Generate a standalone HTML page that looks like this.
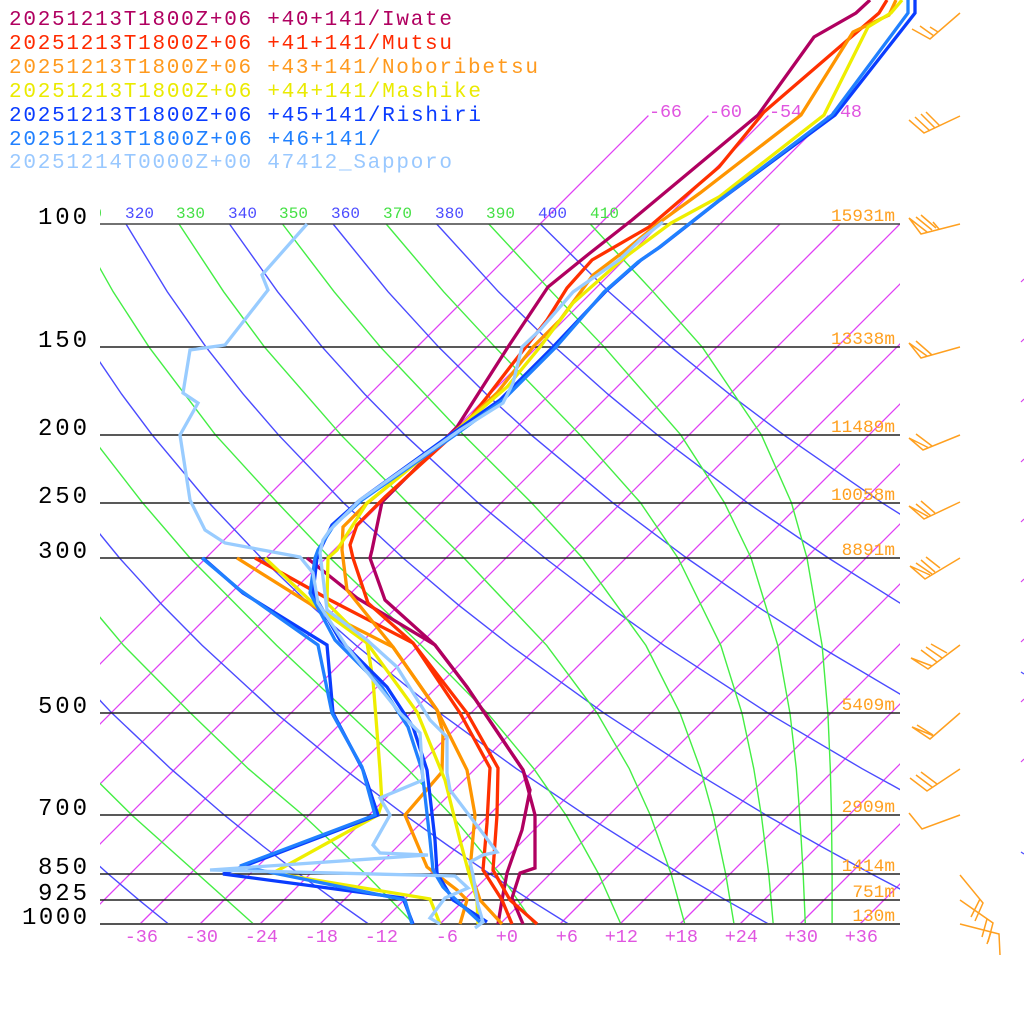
<!DOCTYPE html>
<html><head><meta charset="utf-8">
<style>
html,body{margin:0;padding:0;background:#fff;}
svg{display:block;}
text{font-family:"Liberation Mono","DejaVu Sans Mono",monospace;}
</style></head>
<body>
<svg width="1024" height="1024" viewBox="0 0 1024 1024" xmlns="http://www.w3.org/2000/svg">
<defs>
<clipPath id="cp"><rect x="100" y="0" width="800" height="925"/></clipPath>
</defs>
<rect x="0" y="0" width="1024" height="1024" fill="#fff"/>

<g clip-path="url(#cp)" fill="none">
<!-- isotherms -->
<g stroke="#e040f4" stroke-width="1.3">
<line x1="-160" y1="924" x2="648.4" y2="115.6"/>
<line x1="-100" y1="924" x2="708.4" y2="115.6"/>
<line x1="-40" y1="924" x2="768.4" y2="115.6"/>
<line x1="20" y1="924" x2="828.4" y2="115.6"/>
<line x1="80" y1="924" x2="780" y2="224"/>
<line x1="140" y1="924" x2="840" y2="224"/>
<line x1="200" y1="924" x2="900" y2="224"/>
<line x1="260" y1="924" x2="960" y2="224"/>
<line x1="320" y1="924" x2="1020" y2="224"/>
<line x1="380" y1="924" x2="1080" y2="224"/>
<line x1="440" y1="924" x2="1140" y2="224"/>
<line x1="500" y1="924" x2="1200" y2="224"/>
<line x1="560" y1="924" x2="1260" y2="224"/>
<line x1="620" y1="924" x2="1320" y2="224"/>
<line x1="680" y1="924" x2="1380" y2="224"/>
<line x1="740" y1="924" x2="1440" y2="224"/>
<line x1="800" y1="924" x2="1500" y2="224"/>
<line x1="860" y1="924" x2="1560" y2="224"/>
</g>
<!-- dry adiabats -->
<g stroke="#4b4bff" stroke-width="1.4">
<polyline points="168.5,924 139.3,900.3 109.0,874.6 77.4,846.5"/>
<polyline points="368.5,924 334.9,900.3 299.9,874.6 263.4,846.5 225.0,815.6 170.7,768.7 112.1,713.3 48.3,645.4"/>
<polyline points="568.5,924 530.5,900.3 490.9,874.6 449.3,846.5 405.6,815.6 343.6,768.7 276.1,713.3 202.2,645.4 162.1,604.9 119.5,558.0 74.2,502.6"/>
<polyline points="768.5,924 726.1,900.3 681.8,874.6 635.3,846.5 586.2,815.6 516.4,768.7 440.2,713.3 356.1,645.4 310.2,604.9 261.3,558.0 208.8,502.6 152.0,434.7 121.6,394.1 89.9,347.3"/>
<polyline points="968.5,924 921.7,900.3 872.7,874.6 821.3,846.5 766.9,815.6 689.3,768.7 604.3,713.3 510.1,645.4 458.4,604.9 403.1,558.0 343.3,502.6 278.3,434.7 243.2,394.1 206.2,347.3 167.3,291.8 126.0,224"/>
<polyline points="1007.2,846.5 947.5,815.6 862.1,768.7 768.4,713.3 664.0,645.4 606.6,604.9 544.9,558.0 477.9,502.6 404.6,434.7 364.7,394.1 322.5,347.3 277.7,291.8 229.5,224"/>
<polyline points="1034.9,768.7 932.4,713.3 817.9,645.4 754.7,604.9 686.7,558.0 612.5,502.6 530.9,434.7 486.3,394.1 438.9,347.3 388.1,291.8 333.1,224"/>
<polyline points="1096.5,713.3 971.9,645.4 902.9,604.9 828.4,558.0 747.1,502.6 657.1,434.7 607.8,394.1 555.2,347.3 498.5,291.8 436.7,224"/>
<polyline points="1051,604.9 970.2,558.0 881.7,502.6 783.4,434.7 729.4,394.1 671.5,347.3 608.9,291.8 540.3,224"/>
</g>
<!-- moist adiabats -->
<g stroke="#44ee44" stroke-width="1.4">
<polyline points="253.5,924 198.4,874.6 132.4,815.6 85,768.7"/>
<polyline points="413.8,924 366.2,874.6 303.6,815.6 248.3,768.7 190.7,713.3 123.6,645.4 50,558"/>
<polyline points="533.9,924 500.4,874.6 451.8,815.6 407.3,768.7 348.7,713.3 276.6,645.4 190.0,558 142.4,502.6 89.8,434.7"/>
<polyline points="620.8,924 599.0,874.6 566.3,815.6 533.8,768.7 487.7,713.3 421.1,645.4 330,558 277.4,502.6 215.3,434.7 149.2,347.3 113.2,291.8 75,224"/>
<polyline points="684.8,924 671.3,874.6 650.5,815.6 629.3,768.7 597.2,713.3 546.7,645.4 464,558 407.4,502.6 340.8,434.7 264.7,347.3 223.7,291.8 179,224"/>
<polyline points="734.0,924 725.8,874.6 713.3,815.6 700.3,768.7 680.1,713.3 645.9,645.4 582.5,558 531.4,502.6 463.3,434.7 380.7,347.3 334.2,291.8 282.5,224"/>
<polyline points="773.2,924 768.8,874.6 761.4,815.6 753.8,768.7 742.0,713.3 720.8,645.4 678,558 640.4,502.6 580,434.7 495.2,347.3 443.7,291.8 386.2,224"/>
<polyline points="805.3,924 803.2,874.6 799.8,815.6 796.3,768.7 790.0,713.3 777.8,645.4 751.1,558 724.4,502.6 680.6,434.7 604.5,347.3 551.7,291.8 488.8,224"/>
<polyline points="832.1,924 832.1,874.6 831.5,815.6 830.3,768.7 827.9,713.3 822.1,645.4 807,558 791.4,502.6 761.3,434.7 702.4,347.3 653.2,291.8 590.2,224"/>
</g>
</g>

<!-- pressure lines -->
<g stroke="#222" stroke-width="1.5">
<line x1="100" y1="224" x2="900" y2="224" stroke="#444"/>
<line x1="100" y1="347" x2="900" y2="347"/>
<line x1="100" y1="435" x2="900" y2="435"/>
<line x1="100" y1="503" x2="900" y2="503"/>
<line x1="100" y1="558" x2="900" y2="558"/>
<line x1="100" y1="713" x2="900" y2="713"/>
<line x1="100" y1="815" x2="900" y2="815"/>
<line x1="100" y1="874" x2="900" y2="874"/>
<line x1="100" y1="900" x2="900" y2="900"/>
<line x1="100" y1="924" x2="900" y2="924" stroke="#555" stroke-width="2"/>
</g>

<!-- adiabat labels -->
<g font-size="16" clip-path="url(#cp)">
<text x="73" y="218" fill="#44e044" textLength="29">310</text>
<text x="125" y="218" fill="#4b4bff" textLength="29">320</text>
<text x="176" y="218" fill="#44e044" textLength="29">330</text>
<text x="228" y="218" fill="#4b4bff" textLength="29">340</text>
<text x="279" y="218" fill="#44e044" textLength="29">350</text>
<text x="331" y="218" fill="#4b4bff" textLength="29">360</text>
<text x="383" y="218" fill="#44e044" textLength="29">370</text>
<text x="435" y="218" fill="#4b4bff" textLength="29">380</text>
<text x="486" y="218" fill="#44e044" textLength="29">390</text>
<text x="538" y="218" fill="#4b4bff" textLength="29">400</text>
<text x="590" y="218" fill="#44e044" textLength="29">410</text>
</g>

<!-- top isotherm labels -->
<g font-size="18.5" fill="#e055e0">
<text x="649" y="117" textLength="33">-66</text>
<text x="709" y="117" textLength="33">-60</text>
<text x="769" y="117" textLength="33">-54</text>
<text x="829" y="117" textLength="33">-48</text>
</g>

<!-- bottom temperature labels -->
<g font-size="18.5" fill="#e055e0" text-anchor="end">
<text x="158" y="942">-36</text>
<text x="218" y="942">-30</text>
<text x="278" y="942">-24</text>
<text x="338" y="942">-18</text>
<text x="398" y="942">-12</text>
<text x="458" y="942">-6</text>
<text x="518" y="942">+0</text>
<text x="578" y="942">+6</text>
<text x="638" y="942">+12</text>
<text x="698" y="942">+18</text>
<text x="758" y="942">+24</text>
<text x="818" y="942">+30</text>
<text x="878" y="942">+36</text>
</g>

<!-- pressure labels -->
<g font-size="24" fill="#000">
<text x="38" y="224" textLength="49">100</text>
<text x="38" y="347" textLength="49">150</text>
<text x="38" y="435" textLength="49">200</text>
<text x="38" y="503" textLength="49">250</text>
<text x="38" y="558" textLength="49">300</text>
<text x="38" y="713" textLength="49">500</text>
<text x="38" y="815" textLength="49">700</text>
<text x="38" y="874" textLength="49">850</text>
<text x="38" y="900" textLength="49">925</text>
<text x="22" y="924" textLength="65">1000</text>
</g>

<!-- legend -->
<g font-size="21">
<text x="9" y="25" fill="#b00060" textLength="443">20251213T1800Z+06 +40+141/Iwate</text>
<text x="9" y="49" fill="#ff2a00" textLength="443">20251213T1800Z+06 +41+141/Mutsu</text>
<text x="9" y="73" fill="#ff9a1e" textLength="529">20251213T1800Z+06 +43+141/Noboribetsu</text>
<text x="9" y="97" fill="#eaea00" textLength="472">20251213T1800Z+06 +44+141/Mashike</text>
<text x="9" y="121" fill="#0a3cff" textLength="472">20251213T1800Z+06 +45+141/Rishiri</text>
<text x="9" y="145" fill="#2080ff" textLength="372">20251213T1800Z+06 +46+141/</text>
<text x="9" y="168" fill="#99c8ff" textLength="443">20251214T0000Z+00 47412_Sapporo</text>
</g>

<!-- soundings -->
<g fill="none" stroke-width="3.3" stroke-linejoin="miter" stroke-miterlimit="3">
<polyline stroke="#b00060" points="870,0 856,13 814,37 758,115 632,220 590,253 548,287 508,347 457,427 382,502 372,550 370,558 385,600 435,645 467,687 523,770 535,815 535,868 520,873 512,898 523,924"/>
<polyline stroke="#b00060" points="307,558 357,598 435,645 467,687 523,770 530,790 522,830 507,873 502,900 498,924"/>
<polyline stroke="#ff3000" points="887,0 879,13 764,112 719,167 649,227 592,260 567,288 547,320 510,367 487,397 463,427 453,435 420,465 385,497 357,525 350,545 353,558 368,603 413,643 467,713 498,768 497,815 493,870 510,900 537,924"/>
<polyline stroke="#ff3000" points="255,558 330,600 413,643 460,713 490,768 487,823 483,870 502,900 512,924"/>
<polyline stroke="#ff9500" points="896,0 889,15 853,32 801,115 700,193 660,222 622,253 593,275 560,320 533,347 497,393 460,427 410,468 365,505 343,527 342,550 343,558 347,590 393,647 437,710 467,770 475,815 470,870 480,900 502,924"/>
<polyline stroke="#ff9500" points="237,558 320,610 393,647 437,710 443,733 442,772 405,815 427,867 457,890 467,900 460,924"/>
<polyline stroke="#eeee00" points="902,0 891,13 868,27 824,115 719,197 671,223 624,258 573,303 540,347 507,387 457,430 367,503 337,550 328,558 327,603 367,643 417,712 445,780 460,840 468,870 477,900 478,924"/>
<polyline stroke="#eeee00" points="265,558 317,607 367,643 373,680 380,770 382,803 378,815 273,873 430,899 440,924"/>
<polyline stroke="#0a3cff" points="915,0 915,13 835,115 720,200 660,247 641,260 607,290 553,347 500,400 453,433 360,500 332,525 320,550 317,558 313,593 340,640 387,687 413,727 427,770 435,840 437,873 453,900 487,922"/>
<polyline stroke="#0a3cff" points="203,558 243,593 327,645 333,713 363,770 378,815 223,874 403,898 413,924"/>
<polyline stroke="#2080ff" points="908,0 908,13 832,115 717,202 657,249 638,262 604,292 556,347 503,400 455,435 362,500 334,525 318,550 315,558 310,593 335,640 382,687 408,727 422,770 430,840 433,870 443,887 453,897 480,922"/>
<polyline stroke="#2080ff" points="202,558 240,590 318,645 332,713 362,767 375,815 240,866 405,900 412,924"/>
<polyline stroke="#99ccff" points="663,222 640,240 619,260 593,278 573,292 540,330 522,347 513,383 503,403 460,430 360,500 330,530 323,540 320,553 327,610 367,640 397,667 430,720 447,737 447,773 450,790 497,852 483,855 470,862 473,875 478,905 483,922 475,928"/>
<polyline stroke="#99ccff" points="307,224 262,275 268,290 225,345 190,350 183,393 198,403 180,435 190,500 205,530 225,543 300,557 313,573 318,603 347,647 400,713 420,733 423,780 380,798 390,815 373,845 380,853 428,855 210,870 455,876 468,888 445,898 430,918 440,924"/>
</g>

<!-- height labels -->
<g font-size="17.8" fill="#ffa020" text-anchor="end">
<text x="895" y="221">15931m</text>
<text x="895" y="344">13338m</text>
<text x="895" y="432">11489m</text>
<text x="895" y="500">10058m</text>
<text x="895" y="555">8891m</text>
<text x="895" y="710">5409m</text>
<text x="895" y="812">2909m</text>
<text x="895" y="871">1414m</text>
<text x="895" y="897">751m</text>
<text x="895" y="921">130m</text>
</g>

<!-- wind barbs -->
<g fill="none" stroke="#ffa020" stroke-width="1.5">
<path d="M960,13 L930,39 L912,29 M934,36 L920,26 M938,32 L930,27"/>
<path d="M960,116 L924,133 L909,120 M930,131 L915,117 M935,128 L921,114 M940,126 L926,112"/>
<path d="M960,224 L921,234 L909,218 L927,232 M916,217 L932,230 M921,215 L936,228 M933,222 L939,229"/>
<path d="M960,347 L921,358 L909,343 L927,356 M916,341 L932,355"/>
<path d="M960,435 L923,450 L909,438 L929,448 M916,434 L932,446"/>
<path d="M960,502 L924,519 L909,506 L929,517 M916,504 L931,516 M921,501 L935,513"/>
<path d="M960,558 L925,579 L910,566 L930,575 M916,563 L932,574 M921,560 L935,572 M926,557 L940,568"/>
<path d="M960,645 L928,669 L911,658 L932,666 M921,650 L937,662 M926,647 L942,658 M931,644 L947,653"/>
<path d="M960,713 L930,739 L912,727 L934,736 M917,725 L933,735"/>
<path d="M960,769 L927,791 L910,778 M932,787 L916,775 M937,784 L921,772"/>
<path d="M960,815 L922,829 L909,813"/>
<path d="M960,875 L983,903 L975,921 M980,899 L971,917"/>
<path d="M960,900 L993,923 L988,942 M987,919 L982,937"/>
<path d="M960,924 L999,934 L1000,955 M991,932 L987,944"/>
</g>

<!-- right edge marks -->
<g stroke="#d845ec" stroke-width="1.2">
<line x1="1021" y1="282" x2="1024" y2="279"/>
<line x1="1021" y1="342" x2="1024" y2="339"/>
<line x1="1021" y1="402" x2="1024" y2="399"/>
<line x1="1021" y1="462" x2="1024" y2="459"/>
<line x1="1021" y1="522" x2="1024" y2="519"/>
<line x1="1021" y1="582" x2="1024" y2="579"/>
<line x1="1021" y1="642" x2="1024" y2="639"/>
<line x1="1021" y1="702" x2="1024" y2="699"/>
<line x1="1021" y1="762" x2="1024" y2="759"/>
</g>
<g stroke="#4b4bff" stroke-width="1.2">
<line x1="1021" y1="672" x2="1024" y2="674"/>
<line x1="1021" y1="852" x2="1024" y2="854"/>
</g>
</svg>
</body></html>
